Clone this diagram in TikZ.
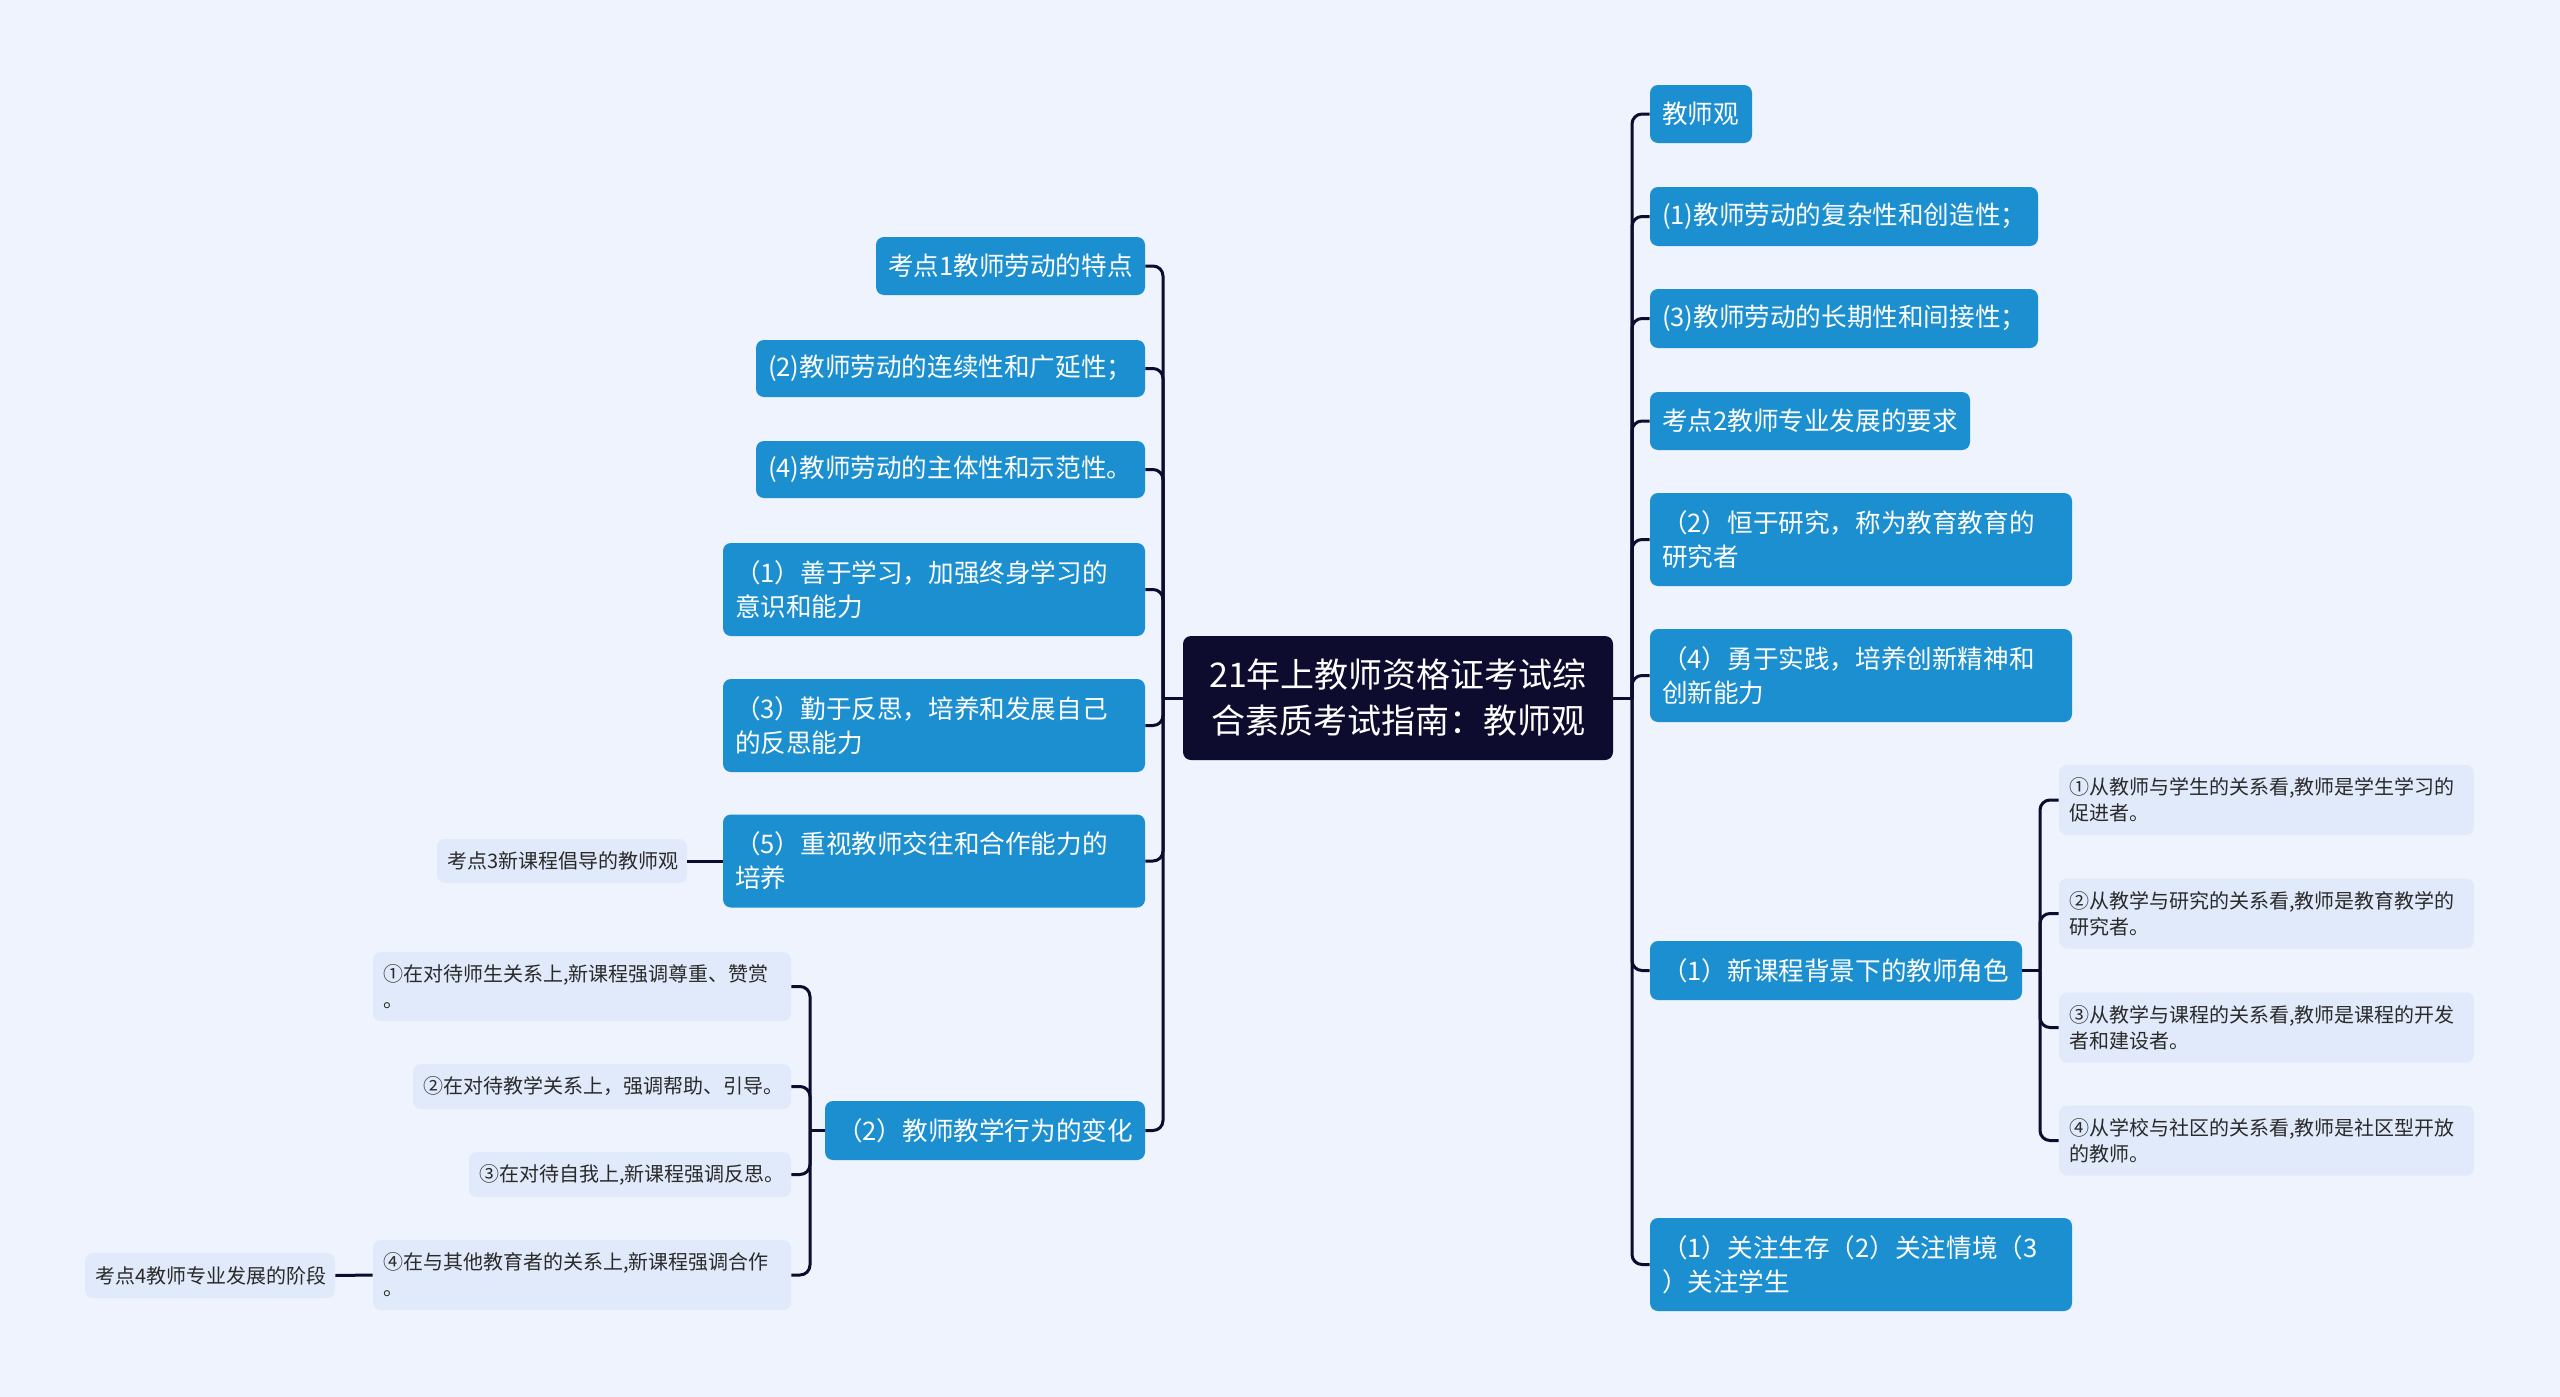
\documentclass[tikz,border=0pt]{standalone}
\usepackage{fontspec}
\setmainfont{Noto Sans CJK SC}
\definecolor{bgc}{HTML}{EEF3FD}
\definecolor{bluec}{HTML}{1B8FD0}
\definecolor{lightc}{HTML}{E1EAFA}
\definecolor{rootc}{HTML}{0D0B2E}
\definecolor{linec}{HTML}{0D0B2E}
\definecolor{darktext}{HTML}{2A2A2A}
\tikzset{
  rootbox/.style={fill=rootc, rounded corners=4pt, text=white, align=center,
    font=\fontsize{17}{23}\selectfont, minimum width=215pt, minimum height=62pt, inner sep=0pt},
  bluebox/.style={fill=bluec, rounded corners=4pt, text=white, align=left,
    font=\fontsize{12.8}{17}\selectfont, inner xsep=6pt, inner ysep=0pt},
  lightbox/.style={fill=lightc, rounded corners=4pt, text=darktext, align=left,
    font=\fontsize{10}{13}\selectfont, inner xsep=5pt, inner ysep=0pt},
  conn/.style={draw=linec, line width=1.5pt, rounded corners=5pt},
}
\begin{document}
\begin{tikzpicture}[x=0.5pt,y=-0.5pt]
\fill[bgc] (0,0) rectangle (2560,1397);
\useasboundingbox (0,0) rectangle (2560,1397);

% root
\node[rootbox] (root) at (1398,698) {21年上教师资格证考试综\\合素质考试指南：教师观};

% left blue nodes
\node[bluebox, text width=122.5pt, minimum height=29pt] (L1) at (1010.5,266) {考点1教师劳动的特点};
\node[bluebox, text width=182.5pt, minimum height=28.5pt] (L2) at (950.5,368.5) {(2)教师劳动的连续性和广延性；};
\node[bluebox, text width=182.5pt, minimum height=28.5pt] (L3) at (950.5,469.5) {(4)教师劳动的主体性和示范性。};
\node[bluebox, text width=199pt, minimum height=46.5pt] (L4) at (934,589.5) {（1）善于学习，加强终身学习的\\意识和能力};
\node[bluebox, text width=199pt, minimum height=46.5pt] (L5) at (934,725.5) {（3）勤于反思，培养和发展自己\\的反思能力};
\node[bluebox, text width=199pt, minimum height=46.5pt] (L6) at (934,861) {（5）重视教师交往和合作能力的\\培养};
\node[bluebox, text width=148pt, minimum height=29.5pt] (L7) at (985,1130.5) {（2）教师教学行为的变化};

% right blue nodes
\node[bluebox, text width=39pt, minimum height=29pt] (R1) at (1701,114) {教师观};
\node[bluebox, text width=182pt, minimum height=29.5pt] (R2) at (1844,216.5) {(1)教师劳动的复杂性和创造性；};
\node[bluebox, text width=182pt, minimum height=29.5pt] (R3) at (1844,318.5) {(3)教师劳动的长期性和间接性；};
\node[bluebox, text width=148pt, minimum height=29pt] (R4) at (1810,421) {考点2教师专业发展的要求};
\node[bluebox, text width=199pt, minimum height=46.5pt] (R5) at (1861,539.5) {（2）恒于研究，称为教育教育的\\研究者};
\node[bluebox, text width=199pt, minimum height=46.5pt] (R6) at (1861,675.5) {（4）勇于实践，培养创新精神和\\创新能力};
\node[bluebox, text width=174pt, minimum height=29.5pt] (R7) at (1836,970.5) {（1）新课程背景下的教师角色};
\node[bluebox, text width=199pt, minimum height=46.5pt] (R8) at (1861,1264.5) {（1）关注生存（2）关注情境（3\\）关注学生};

% right light nodes
\node[lightbox, text width=197.5pt, minimum height=35pt] (S1) at (2266.5,800) {①从教师与学生的关系看,教师是学生学习的\\促进者。};
\node[lightbox, text width=197.5pt, minimum height=35pt] (S2) at (2266.5,913.5) {②从教学与研究的关系看,教师是教育教学的\\研究者。};
\node[lightbox, text width=197.5pt, minimum height=35pt] (S3) at (2266.5,1027.5) {③从教学与课程的关系看,教师是课程的开发\\者和建设者。};
\node[lightbox, text width=197.5pt, minimum height=35pt] (S4) at (2266.5,1140.5) {④从学校与社区的关系看,教师是社区型开放\\的教师。};

% left light nodes
\node[lightbox, text width=199pt, minimum height=34.5pt] (T1) at (582,986.5) {①在对待师生关系上,新课程强调尊重、赞赏\\。};
\node[lightbox, text width=179pt, minimum height=22.5pt] (T2) at (602,1086.5) {②在对待教学关系上，强调帮助、引导。};
\node[lightbox, text width=151pt, minimum height=22.5pt] (T3) at (630,1174.5) {③在对待自我上,新课程强调反思。};
\node[lightbox, text width=199pt, minimum height=35pt] (T4) at (582,1275) {④在与其他教育者的关系上,新课程强调合作\\。};
\node[lightbox, text width=115pt, minimum height=22pt] (K3) at (562,861) {考点3新课程倡导的教师观};
\node[lightbox, text width=115pt, minimum height=22.5pt] (K4) at (210,1275.5) {考点4教师专业发展的阶段};

% spine junctions
\coordinate (ls) at (1163,698);
\coordinate (rs) at (1632,698);
\coordinate (ts) at (810,1130.5);
\coordinate (ss) at (2040,970.5);

% main connectors
\draw[conn] (root.west) -- (ls);
\foreach \n in {L1,L2,L3,L4,L5,L6,L7} \draw[conn] (ls) |- (\n.east);
\draw[conn] (root.east) -- (rs);
\foreach \n in {R1,R2,R3,R4,R5,R6,R7,R8} \draw[conn] (rs) |- (\n.west);

% sub connectors
\draw[conn] (L7.west) -- (ts);
\foreach \n in {T1,T2,T3,T4} \draw[conn] (ts) |- (\n.east);
\draw[conn] (R7.east) -- (ss);
\foreach \n in {S1,S2,S3,S4} \draw[conn] (ss) |- (\n.west);
\draw[conn] (L6.west) -- (K3.east);
\draw[conn] (T4.west) -- (K4.east);
\end{tikzpicture}
\end{document}
